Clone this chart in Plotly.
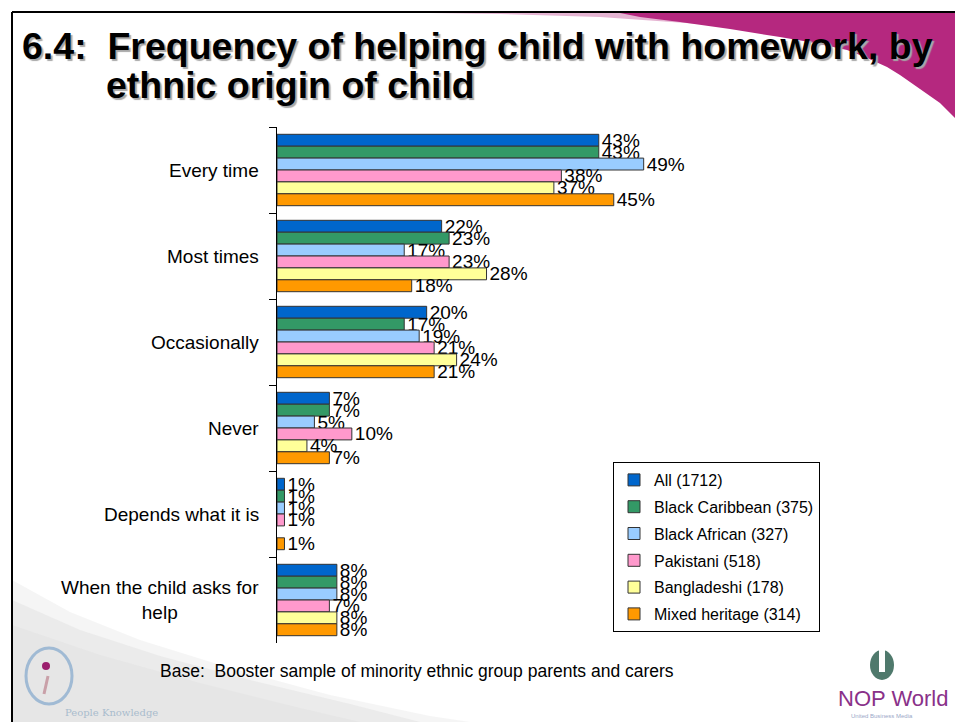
import plotly.graph_objects as go

# Survey answers and groups
categories = ["Every time", "Most times", "Occasionally", "Never",
              "Depends what it is", "When the child asks for help"]
category_labels = ["Every time", "Most times", "Occasionally", "Never",
                   "Depends what it is", "When the child asks for<br>help"]

series_names = ["All (1712)", "Black Caribbean (375)", "Black African (327)",
                "Pakistani (518)", "Bangladeshi (178)", "Mixed heritage (314)"]
all_groups = [43, 22, 20, 7, 1, 8]
black_caribbean = [43, 23, 17, 7, 1, 8]
black_african = [49, 17, 19, 5, 1, 8]
pakistani = [38, 23, 21, 10, 1, 7]
bangladeshi = [37, 28, 24, 4, None, 8]
mixed_heritage = [45, 18, 21, 7, 1, 8]
series_values = [all_groups, black_caribbean, black_african,
                 pakistani, bangladeshi, mixed_heritage]
series_colors = ["#0066CC", "#339966", "#99CCFF", "#FF99CC", "#FFFF99", "#FF9900"]

title_line1 = "6.4:\u00a0 Frequency of helping child with homework, by"
title_line2 = "ethnic origin of child"
base_note = "Base:\u00a0 Booster sample of minority ethnic group parents and carers"

FONT = "Liberation Sans, Arial, sans-serif"

# plot-area geometry in page pixels, used to place decorations
L, T, W, H = 277, 127, 449, 516
FIG_W, FIG_H = 955, 722


def fx(x):
    return (x - L) / W


def fy(y):
    return (T + H - y) / H


def path(points, close=True):
    s = "M " + " L ".join(f"{fx(x):.4f},{fy(y):.4f}" for x, y in points)
    return s + (" Z" if close else "")


fig = go.Figure()
for name, vals, col in zip(series_names, series_values, series_colors):
    fig.add_trace(go.Bar(
        y=categories, x=vals, name=name, orientation="h",
        marker=dict(color=col, line=dict(color="#333333", width=1)),
        texttemplate="%{x}%", textposition="outside", constraintext="none",
        cliponaxis=False, textfont=dict(family=FONT, size=19, color="black"),
        legendgroup=name,
    ))

shapes = []
# soft grey sweep at bottom left, layered for a gentle fade
for pts, op in [
    ([(12, 580), (70, 612), (140, 640), (230, 668), (330, 695), (430, 716), (470, 722), (12, 722)], 0.35),
    ([(12, 600), (80, 630), (160, 656), (250, 680), (350, 704), (420, 722), (12, 722)], 0.5),
    ([(12, 625), (100, 655), (200, 683), (300, 708), (360, 722), (12, 722)], 0.6),
]:
    shapes.append(dict(type="path", xref="paper", yref="paper", layer="below",
                       path=path(pts), fillcolor="#e2e2e2", opacity=op,
                       line=dict(width=0)))
# magenta sweep at top right (faded tail then solid body)
shapes.append(dict(type="path", xref="paper", yref="paper", layer="below",
                   path=path([(430, 13), (700, 13), (700, 24), (600, 17), (500, 14)]),
                   fillcolor="#B5287F", opacity=0.35, line=dict(width=0)))
shapes.append(dict(type="path", xref="paper", yref="paper", layer="below",
                   path=path([(620, 13), (955, 13), (955, 118), (940, 103), (920, 89),
                              (900, 75), (887, 67), (865, 57), (847, 50), (815, 43),
                              (780, 37), (730, 29), (680, 22), (640, 17)]),
                   fillcolor="#B5287F", line=dict(width=0)))
# slide frame
shapes.append(dict(type="line", xref="paper", yref="paper", layer="below",
                   x0=fx(12), y0=fy(12), x1=fx(955), y1=fy(12),
                   line=dict(color="black", width=2)))
shapes.append(dict(type="line", xref="paper", yref="paper", layer="below",
                   x0=fx(12), y0=fy(12), x1=fx(12), y1=fy(722),
                   line=dict(color="black", width=2)))
# left logo
shapes.append(dict(type="circle", xref="paper", yref="paper", layer="below",
                   x0=fx(26), y0=fy(648), x1=fx(72), y1=fy(704),
                   line=dict(color="#8fb0d0", width=3), opacity=0.8))
shapes.append(dict(type="circle", xref="paper", yref="paper", layer="below",
                   x0=fx(42), y0=fy(662), x1=fx(50), y1=fy(670),
                   fillcolor="#9c1f6e", line=dict(width=0)))
shapes.append(dict(type="line", xref="paper", yref="paper", layer="below",
                   x0=fx(48), y0=fy(676), x1=fx(44), y1=fy(694),
                   line=dict(color="#c9a0a8", width=3)))
# right logo globe
shapes.append(dict(type="circle", xref="paper", yref="paper", layer="below",
                   x0=fx(870), y0=fy(650), x1=fx(894), y1=fy(680),
                   fillcolor="#3c6a5c", line=dict(width=0), opacity=0.9))
shapes.append(dict(type="rect", xref="paper", yref="paper", layer="below",
                   x0=fx(879), y0=fy(648), x1=fx(885), y1=fy(672),
                   fillcolor="white", line=dict(width=0)))

annotations = []
for i, lab in enumerate(category_labels):
    annotations.append(dict(
        x=0, xref="paper", y=i, yref="y", text=lab, showarrow=False,
        xanchor="right", yanchor="middle", align="center", xshift=-16,
        font=dict(family=FONT, size=19, color="black")))

title_font = dict(family=FONT, size=37.5, color="black", weight="bold",
                  shadow="2px 2px 1px #a8a8a8")
annotations.append(dict(x=fx(20), y=fy(46), xref="paper", yref="paper",
                        text=title_line1, showarrow=False, xanchor="left",
                        yanchor="middle", font=title_font))
annotations.append(dict(x=fx(104), y=fy(85), xref="paper", yref="paper",
                        text=title_line2, showarrow=False, xanchor="left",
                        yanchor="middle", font=title_font))
annotations.append(dict(x=fx(158), y=fy(671), xref="paper", yref="paper",
                        text=base_note, showarrow=False, xanchor="left",
                        yanchor="middle", font=dict(family=FONT, size=17.5, color="black")))
annotations.append(dict(x=fx(63), y=fy(712), xref="paper", yref="paper",
                        text="People Knowledge", showarrow=False, xanchor="left",
                        yanchor="middle",
                        font=dict(family="DejaVu Serif, serif", size=10, color="#a9bccd")))
annotations.append(dict(x=fx(836), y=fy(698), xref="paper", yref="paper",
                        text="NOP World", showarrow=False, xanchor="left",
                        yanchor="middle",
                        font=dict(family=FONT, size=22, color="#8a3189")))
annotations.append(dict(x=fx(882), y=fy(716), xref="paper", yref="paper",
                        text="United Business Media", showarrow=False, xanchor="center",
                        yanchor="middle",
                        font=dict(family=FONT, size=6, color="#9aa8c8")))

fig.update_layout(
    width=FIG_W, height=FIG_H,
    margin=dict(l=L, r=FIG_W - L - W, t=T, b=FIG_H - T - H),
    paper_bgcolor="white", plot_bgcolor="rgba(0,0,0,0)",
    barmode="group", bargap=0.17, bargroupgap=0,
    font=dict(family=FONT, color="black"),
    xaxis=dict(range=[0, 60], visible=False, fixedrange=True),
    yaxis=dict(autorange="reversed", showline=True, linecolor="black", linewidth=1,
               ticks="outside", ticklen=7, tickcolor="black", tickson="boundaries",
               showticklabels=False, showgrid=False, zeroline=False),
    legend=dict(x=fx(613), y=fy(462), xanchor="left", yanchor="top",
                bordercolor="black", borderwidth=1, bgcolor="white",
                font=dict(family=FONT, size=16, color="black"),
                traceorder="grouped", tracegroupgap=3, itemwidth=30),
    shapes=shapes, annotations=annotations, showlegend=True,
)

fig.write_html("out.html")
